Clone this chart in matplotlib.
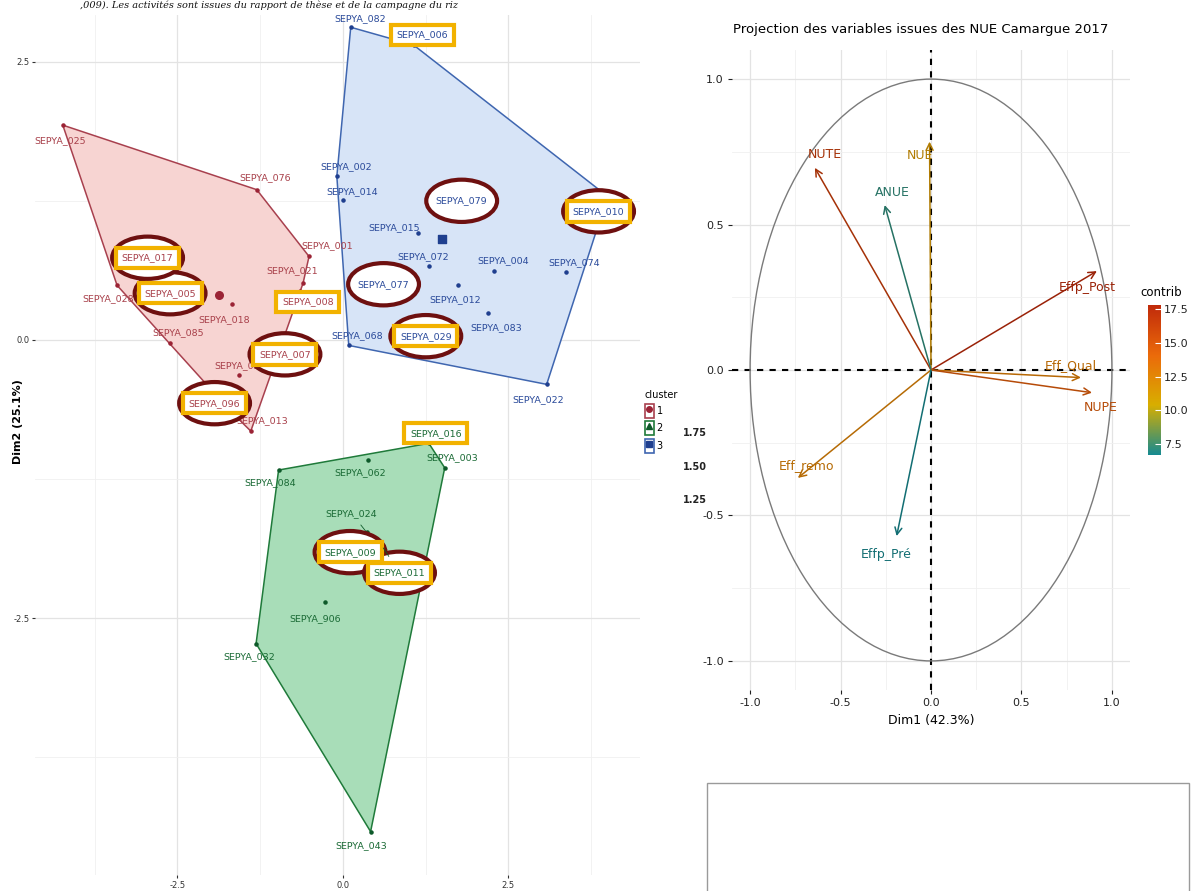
import numpy as np
import matplotlib
matplotlib.use('Agg')
import matplotlib.pyplot as plt
from matplotlib import font_manager
from matplotlib.patches import Ellipse, Circle, Rectangle, Patch
from matplotlib.lines import Line2D
from matplotlib.colors import LinearSegmentedColormap, Normalize
from matplotlib.transforms import offset_copy
import matplotlib.cm as cm

# narrow font if present, else DejaVu
names = {f.name for f in font_manager.fontManager.ttflist}
NARROW = 'Liberation Sans Narrow' if 'Liberation Sans Narrow' in names else 'DejaVu Sans'
LBL_SIZE = 8.5 if NARROW != 'DejaVu Sans' else 6.8

# ---------------- data: individuals (Dim1, Dim2) ----------------
c1_names = ['SEPYA_025', 'SEPYA_076', 'SEPYA_001', 'SEPYA_021', 'SEPYA_008', 'SEPYA_028', 'SEPYA_005',
            'SEPYA_017', 'SEPYA_018', 'SEPYA_085', 'SEPYA_007', 'SEPYA_023', 'SEPYA_096', 'SEPYA_013']
c1_x = [-4.23, -1.30, -0.51, -0.60, -0.65, -3.41, -2.76, -3.07, -1.68, -2.61, -1.04, -1.57, -1.68, -1.39]
c1_y = [1.93, 1.35, 0.75, 0.51, 0.44, 0.49, 0.50, 0.81, 0.32, -0.03, -0.22, -0.32, -0.65, -0.82]

c2_names = ['SEPYA_016', 'SEPYA_003', 'SEPYA_062', 'SEPYA_084', 'SEPYA_024', 'SEPYA_009', 'SEPYA_011',
            'SEPYA_906', 'SEPYA_032', 'SEPYA_043']
c2_x = [1.30, 1.54, 0.38, -0.97, 0.36, 0.20, 0.60, -0.27, -1.31, 0.42]
c2_y = [-0.93, -1.15, -1.08, -1.17, -1.73, -1.89, -1.86, -2.36, -2.73, -4.42]

c3_names = ['SEPYA_082', 'SEPYA_006', 'SEPYA_002', 'SEPYA_014', 'SEPYA_079', 'SEPYA_010', 'SEPYA_015',
            'SEPYA_072', 'SEPYA_004', 'SEPYA_074', 'SEPYA_077', 'SEPYA_012', 'SEPYA_083', 'SEPYA_029',
            'SEPYA_068', 'SEPYA_022']
c3_x = [0.12, 1.07, -0.09, 0.00, 1.66, 4.00, 1.13, 1.30, 2.28, 3.37, 0.51, 1.74, 2.19, 1.39, 0.09, 3.08]
c3_y = [2.81, 2.65, 1.47, 1.26, 1.16, 1.29, 0.96, 0.66, 0.62, 0.61, 0.41, 0.49, 0.24, 0.15, -0.05, -0.40]

centers_x = [-1.87, 0.24, 1.50]
centers_y = [0.40, -1.92, 0.91]

# highlighted individuals
boxed = {'SEPYA_006', 'SEPYA_017', 'SEPYA_005', 'SEPYA_008', 'SEPYA_007', 'SEPYA_096', 'SEPYA_029',
         'SEPYA_010', 'SEPYA_016', 'SEPYA_009', 'SEPYA_011'}
circled = {'SEPYA_017', 'SEPYA_005', 'SEPYA_007', 'SEPYA_096', 'SEPYA_079', 'SEPYA_077', 'SEPYA_029',
           'SEPYA_010', 'SEPYA_009', 'SEPYA_011'}

# ---------------- data: variables ----------------
var_names = ['NUTE', 'NUE', 'ANUE', 'Effp_Post', 'Eff_Qual', 'NUPE', 'Eff_remo', 'Effp_Pré']
var_x = [-0.642, -0.008, -0.256, 0.917, 0.829, 0.890, -0.736, -0.190]
var_y = [0.695, 0.785, 0.567, 0.340, -0.026, -0.078, -0.371, -0.571]
contrib = [16.6, 11.4, 7.2, 17.8, 12.8, 14.8, 12.6, 6.7]

# label offsets (pixels) relative to the point / arrow tip
lbl_off = {
    'SEPYA_025': (-3, -15), 'SEPYA_076': (8, 12), 'SEPYA_001': (18, 11), 'SEPYA_021': (-11, 12),
    'SEPYA_008': (8, -11), 'SEPYA_028': (-9, -13), 'SEPYA_005': (10, -9), 'SEPYA_017': (8, -8),
    'SEPYA_018': (-7, -15), 'SEPYA_085': (8, 11), 'SEPYA_007': (11, 10), 'SEPYA_023': (1, 10),
    'SEPYA_096': (-17, 9), 'SEPYA_013': (11, 10),
    'SEPYA_016': (7, 10), 'SEPYA_003': (8, 10), 'SEPYA_062': (-8, -13), 'SEPYA_084': (-8, -13),
    'SEPYA_024': (-15, 19), 'SEPYA_009': (-6, -2), 'SEPYA_011': (17, -26), 'SEPYA_906': (-10, -16),
    'SEPYA_032': (-7, -13), 'SEPYA_043': (-9, -14),
    'SEPYA_082': (9, 9), 'SEPYA_006': (9, 10), 'SEPYA_002': (9, 10), 'SEPYA_014': (9, 8),
    'SEPYA_079': (9, 10), 'SEPYA_010': (-9, -15), 'SEPYA_015': (-23, 5), 'SEPYA_072': (-6, 10),
    'SEPYA_004': (9, 10), 'SEPYA_074': (8, 9), 'SEPYA_077': (7, 10), 'SEPYA_012': (-3, -14),
    'SEPYA_083': (8, -14), 'SEPYA_029': (-9, -13), 'SEPYA_068': (8, 10), 'SEPYA_022': (-8, -15),
}
segment_names = {'SEPYA_024', 'SEPYA_011'}
var_off = {'NUTE': (10, 13), 'NUE': (-10, -14), 'ANUE': (8, 13), 'Effp_Post': (-10, -16),
           'Eff_Qual': (-10, 12), 'NUPE': (9, -15), 'Eff_remo': (9, 12), 'Effp_Pré': (-10, -18)}


def convex_hull(xs, ys):
    pts = sorted(set(zip(xs, ys)))

    def cross(o, a, b):
        return (a[0] - o[0]) * (b[1] - o[1]) - (a[1] - o[1]) * (b[0] - o[0])
    lower, upper = [], []
    for p in pts:
        while len(lower) >= 2 and cross(lower[-2], lower[-1], p) <= 0:
            lower.pop()
        lower.append(p)
    for p in reversed(pts):
        while len(upper) >= 2 and cross(upper[-2], upper[-1], p) <= 0:
            upper.pop()
        upper.append(p)
    return np.array(lower[:-1] + upper[:-1])


def darker(c, f=0.8):
    return (c[0] * f, c[1] * f, c[2] * f, 1.0)


W, H = 1192, 891
fig = plt.figure(figsize=(W / 100, H / 100), dpi=100)

# ================= left: cluster plot =================
ax = fig.add_axes([35 / W, 1 - 875 / H, 605 / W, 860 / H])
ax.set_xlim(-4.65, 4.49)
ax.set_ylim(-4.81, 2.92)
for s in ax.spines.values():
    s.set_visible(False)
ax.set_xticks([-2.5, 0, 2.5])
ax.set_yticks([-2.5, 0, 2.5])
ax.set_xticklabels(['-2.5', '0.0', '2.5'])
ax.set_yticklabels(['-2.5', '0.0', '2.5'])
ax.set_xticks([-3.75, -1.25, 1.25, 3.75], minor=True)
ax.set_yticks([-3.75, -1.25, 1.25], minor=True)
ax.tick_params(which='major', labelsize=6, length=2, colors='#333333', pad=2)
ax.tick_params(which='minor', length=0)
ax.grid(which='major', color='#E3E3E3', lw=0.9)
ax.grid(which='minor', color='#F0F0F0', lw=0.6)
ax.set_axisbelow(True)

clusters = [
    (c1_names, c1_x, c1_y, '#F7D4D2', '#A8404E', '#9B2335', '#A8404A', 'o'),
    (c2_names, c2_x, c2_y, '#A8DDB8', '#1F7A3A', '#0E5A2A', '#1A6A35', '^'),
    (c3_names, c3_x, c3_y, '#D7E4F7', '#3F66B0', '#1F3F8F', '#2A4A9A', 's'),
]

for k, (nm, xs, ys, fill, edge, pc, tc, mk) in enumerate(clusters):
    hp = convex_hull(xs, ys)
    ax.fill(hp[:, 0], hp[:, 1], facecolor=fill, edgecolor=edge, lw=1.1, zorder=1)
    ax.scatter(xs, ys, s=5, color=pc, zorder=3)
    ax.scatter([centers_x[k]], [centers_y[k]], s=30, marker=mk, color=pc, zorder=3)
    for n, x, y in zip(nm, xs, ys):
        dx, dy = lbl_off[n]
        kw = dict(textcoords='offset pixels', ha='center', va='center', fontsize=LBL_SIZE,
                  color=tc, family=[NARROW, 'DejaVu Sans'])
        if n in segment_names:
            kw['arrowprops'] = dict(arrowstyle='-', color=pc, lw=0.6, shrinkA=4, shrinkB=1)
        if n in boxed:
            kw['bbox'] = dict(boxstyle='square,pad=0.6', fc='white', ec='#F2B200', lw=3)
            kw['zorder'] = 7
        elif n in circled:
            kw['zorder'] = 7
        else:
            kw['zorder'] = 4
        ax.annotate(n, (x, y), xytext=(dx, dy), **kw)
        if n in circled:
            tr = offset_copy(ax.transData, fig=fig, x=dx, y=dy, units='dots')
            ax.add_patch(Ellipse((x, y), 1.07, 0.38, transform=tr, fc='white',
                                 ec='#6E1010', lw=3, zorder=5))

fig.text(18 / W, 1 - 422 / H, 'Dim2 (25.1%)', rotation=90, ha='center', va='center',
         fontsize=8, fontweight='bold')

# legend
handles = []
for (_, _, _, fill, edge, pc, _, mk) in clusters:
    handles.append((Patch(facecolor='white', edgecolor=edge, lw=1.2),
                    Line2D([], [], marker=mk, color=pc, ls='', markersize=4)))
leg = fig.legend(handles, ['1', '2', '3'], title='cluster', loc='upper left',
                 bbox_to_anchor=(640 / W, 1 - 385 / H), frameon=False, fontsize=7,
                 title_fontsize=7, handlelength=0.9, handleheight=1.8, labelspacing=0.4,
                 handletextpad=0.3, borderpad=0)
leg._legend_box.align = 'left'
for t, yy in zip(['1.75', '1.50', '1.25'], [433, 467, 500]):
    fig.text(683 / W, 1 - yy / H, t, fontsize=7, fontweight='bold', color='#222222',
             ha='left', va='center')

# caption line from the document, at the very top
fig.text(80 / W, 1 - 1 / H, ",009). Les activités sont issues du rapport de thèse et de la campagne du riz",
         ha='left', va='top', fontsize=7, style='italic', family='DejaVu Serif', color='#111111')

# ================= right: variables plot =================
cmap = LinearSegmentedColormap.from_list('contrib', ['#168A90', '#D8AE00', '#EB6A0A', '#C02A0A'])
norm = Normalize(vmin=min(contrib), vmax=max(contrib))

ax2 = fig.add_axes([732 / W, 1 - 690 / H, 398 / W, 640 / H])
ax2.set_xlim(-1.1, 1.1)
ax2.set_ylim(-1.1, 1.1)
for s in ax2.spines.values():
    s.set_visible(False)
ticks = [-1.0, -0.5, 0.0, 0.5, 1.0]
ax2.set_xticks(ticks)
ax2.set_yticks(ticks)
ax2.set_xticklabels(['-1.0', '-0.5', '0.0', '0.5', '1.0'])
ax2.set_yticklabels(['-1.0', '-0.5', '0.0', '0.5', '1.0'])
ax2.set_xticks([-0.75, -0.25, 0.25, 0.75], minor=True)
ax2.set_yticks([-0.75, -0.25, 0.25, 0.75], minor=True)
ax2.tick_params(which='major', labelsize=8, length=3, colors='#222222', pad=3)
ax2.tick_params(which='minor', length=0)
ax2.grid(which='major', color='#E3E3E3', lw=0.9)
ax2.grid(which='minor', color='#F0F0F0', lw=0.6)
ax2.set_axisbelow(True)
ax2.axhline(0, color='black', ls=(0, (3, 3)), lw=1.5, zorder=2)
ax2.axvline(0, color='black', ls=(0, (3, 3)), lw=1.5, zorder=2)
ax2.add_patch(Circle((0, 0), 1.0, fill=False, ec='#7A7A7A', lw=1.0, zorder=2))

for n, x, y, c in zip(var_names, var_x, var_y, contrib):
    col = darker(cmap(norm(c)))
    ax2.annotate('', xy=(x, y), xytext=(0, 0),
                 arrowprops=dict(arrowstyle='->,head_length=0.5,head_width=0.25', color=col,
                                 lw=1.1, shrinkA=0, shrinkB=0), zorder=3)
    dx, dy = var_off[n]
    ax2.annotate(n, (x, y), xytext=(dx, dy), textcoords='offset pixels', ha='center', va='center',
                 fontsize=9, color=col, family=[NARROW, 'DejaVu Sans'], zorder=4)

ax2.set_xlabel('Dim1 (42.3%)', fontsize=9, labelpad=4)
fig.text(733 / W, 1 - 30 / H, 'Projection des variables issues des NUE Camargue 2017',
         ha='left', va='center', fontsize=9.5, family=[NARROW, 'DejaVu Sans'])

# colorbar
cax = fig.add_axes([1148 / W, 1 - 455 / H, 13 / W, 150 / H])
cb = fig.colorbar(cm.ScalarMappable(norm=norm, cmap=cmap), cax=cax)
cb.outline.set_visible(False)
cb.set_ticks([7.5, 10.0, 12.5, 15.0, 17.5])
cb.set_ticklabels(['7.5', '10.0', '12.5', '15.0', '17.5'])
cax.tick_params(direction='in', length=4, color='white', labelcolor='#222222', labelsize=8, pad=2)
fig.text(1140 / W, 1 - 292 / H, 'contrib', fontsize=8.5, ha='left', va='center',
         family=[NARROW, 'DejaVu Sans'])

# empty frame bottom right
fig.add_artist(Rectangle((707 / W, -0.01), (1189 - 707) / W, 0.01 + (891 - 783) / H,
                         transform=fig.transFigure, fill=False, ec='#9A9A9A', lw=1.0))

fig.savefig('out.png', dpi=100)
plt.close(fig)
